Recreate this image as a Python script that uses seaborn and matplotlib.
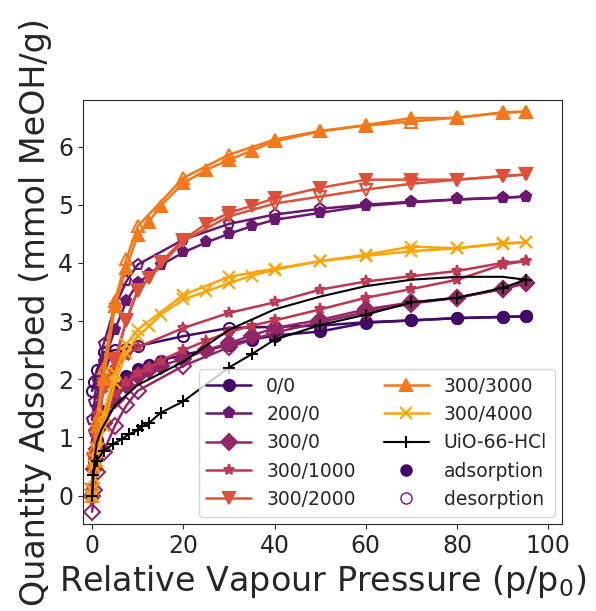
#!/usr/bin/env python3

import numpy as np
import pandas as pd
import seaborn as sns
import matplotlib
matplotlib.use("Agg")
import matplotlib.pyplot as plt
from matplotlib.lines import Line2D

# relative pressure steps (p/p0, %) used by the MOF samples
x_ads = [0, 0.5, 1, 2.5, 5, 7.5, 10, 12.5, 15, 20, 25, 30, 35, 40, 50, 60, 70, 80, 90, 95]
x_des = [95, 90, 80, 70, 60, 50, 40, 30, 20, 10, 7.5, 5, 2.5, 1, 0.5, 0]

labels = ["0/0", "200/0", "300/0", "300/1000", "300/2000", "300/3000", "300/4000"]
markers = ["o", "p", "D", "*", "v", "^", "x"]

ads_00 = [0.0, 0.6, 0.95, 1.45, 1.85, 2.05, 2.17, 2.25, 2.32, 2.42, 2.5, 2.59, 2.68, 2.75, 2.82, 2.97, 3.01, 3.05, 3.07, 3.08]
des_00 = [3.08, 3.07, 3.05, 3.01, 2.98, 2.92, 2.9, 2.88, 2.74, 2.57, 2.52, 2.5, 2.46, 2.15, 1.95, 1.8]

ads_200 = [0.0, 1.1, 1.5, 2.3, 2.85, 3.34, 3.65, 3.8, 3.96, 4.18, 4.35, 4.5, 4.63, 4.74, 4.86, 4.98, 5.04, 5.09, 5.12, 5.14]
des_200 = [5.14, 5.12, 5.09, 5.05, 5.0, 4.93, 4.83, 4.67, 4.4, 3.97, 3.68, 3.25, 2.6, 2.0, 1.6, 1.3]

ads_300 = [0.0, 0.45, 0.8, 1.25, 1.65, 1.9, 2.05, 2.15, 2.23, 2.35, 2.5, 2.62, 2.75, 2.88, 3.02, 3.2, 3.32, 3.4, 3.55, 3.65]
des_300 = [3.65, 3.55, 3.4, 3.3, 3.15, 2.98, 2.8, 2.55, 2.23, 1.8, 1.55, 1.2, 0.75, 0.4, 0.1, -0.28]

ads_1000 = [0.0, 0.5, 0.9, 1.35, 1.75, 1.95, 2.1, 2.2, 2.32, 2.5, 2.66, 2.81, 2.92, 3.01, 3.2, 3.4, 3.55, 3.71, 3.97, 4.03]
des_1000 = [4.03, 4.0, 3.86, 3.77, 3.68, 3.54, 3.32, 3.14, 2.88, 2.55, 2.4, 2.2, 1.85, 1.4, 1.1, 0.7]

ads_2000 = [0.0, 0.4, 0.8, 1.9, 2.34, 3.02, 3.54, 3.74, 4.01, 4.4, 4.67, 4.86, 4.98, 5.11, 5.29, 5.43, 5.43, 5.43, 5.49, 5.52]
des_2000 = [5.52, 5.49, 5.43, 5.36, 5.26, 5.14, 5.02, 4.8, 4.38, 3.52, 3.0, 2.3, 1.85, 1.0, 0.6, 0.1]

ads_3000 = [0.0, 0.6, 1.2, 2.0, 3.25, 3.91, 4.48, 4.71, 4.98, 5.37, 5.6, 5.77, 5.93, 6.09, 6.26, 6.37, 6.49, 6.49, 6.59, 6.6]
des_3000 = [6.6, 6.58, 6.5, 6.43, 6.36, 6.27, 6.12, 5.86, 5.46, 4.63, 4.06, 3.35, 2.2, 1.3, 0.8, 0.1]

ads_4000 = [0.0, 0.3, 0.6, 1.2, 1.94, 2.45, 2.74, 2.91, 3.11, 3.37, 3.51, 3.65, 3.78, 3.88, 4.03, 4.14, 4.28, 4.25, 4.34, 4.35]
des_4000 = [4.35, 4.33, 4.25, 4.2, 4.12, 4.03, 3.9, 3.76, 3.45, 2.85, 2.6, 2.1, 1.4, 0.8, 0.5, 0.1]

# reference UiO-66-HCl, measured on its own pressure steps
x_hcl_ads = [0, 0.2, 1, 2.5, 4.5, 6.5, 8, 10, 11, 12.5, 15, 20, 30, 35, 40, 50, 60, 70, 80, 90, 95]
hcl_ads = [0.0, 0.36, 0.6, 0.76, 0.88, 0.97, 1.05, 1.12, 1.19, 1.25, 1.42, 1.62, 2.2, 2.43, 2.68, 2.93, 3.11, 3.32, 3.4, 3.57, 3.71]
x_hcl_des = [95, 90, 80, 70, 60, 50, 40, 30, 20, 10, 5, 2, 1, 0.5, 0]
hcl_des = [3.71, 3.76, 3.76, 3.71, 3.6, 3.42, 3.2, 2.85, 2.3, 1.9, 1.55, 1.13, 0.9, 0.6, 0.0]

ads_all = [ads_00, ads_200, ads_300, ads_1000, ads_2000, ads_3000, ads_4000]
des_all = [des_00, des_200, des_300, des_1000, des_2000, des_3000, des_4000]


def main():
    sns.set_style("ticks")
    plt.rcParams["font.family"] = ["DejaVu Sans"]

    colors = sns.color_palette("inferno", 9)[1:8]

    fig = plt.figure(figsize=(5.96, 6.11), dpi=100)
    ax = fig.add_axes([83 / 596, 1 - 524 / 611, 479 / 596, 424 / 611])

    line_kws = dict(linewidth=1.8, markersize=8, markeredgewidth=1.5)

    for lab, mk, col, ads, des in zip(labels, markers, colors, ads_all, des_all):
        df_a = pd.DataFrame({"p": x_ads, "q": ads})
        df_d = pd.DataFrame({"p": x_des, "q": des})
        sns.lineplot(data=df_a, x="p", y="q", sort=False, estimator=None,
                     color=col, marker=mk, markeredgecolor=col,
                     markerfacecolor=col, ax=ax, legend=False, **line_kws)
        sns.lineplot(data=df_d, x="p", y="q", sort=False, estimator=None,
                     color=col, marker=mk, markeredgecolor=col,
                     markerfacecolor="none", ax=ax, legend=False, **line_kws)

    hcl_a = pd.DataFrame({"p": x_hcl_ads, "q": hcl_ads})
    hcl_d = pd.DataFrame({"p": x_hcl_des, "q": hcl_des})
    sns.lineplot(data=hcl_a, x="p", y="q", sort=False, estimator=None,
                 color="black", marker="+", markeredgecolor="black",
                 markersize=8, markeredgewidth=1.5, linewidth=1.5,
                 ax=ax, legend=False)
    sns.lineplot(data=hcl_d, x="p", y="q", sort=False, estimator=None,
                 color="black", linewidth=1.5, ax=ax, legend=False)

    ax.set_xlim(-2, 103)
    ax.set_ylim(-0.49, 6.8)
    ax.set_xticks([0, 20, 40, 60, 80, 100])
    ax.set_yticks([0, 1, 2, 3, 4, 5, 6])
    ax.tick_params(labelsize=17)
    ax.set_xlabel("Relative Vapour Pressure (p/p$_0$)", fontsize=24)
    ax.set_ylabel("Quantity Adsorbed (mmol MeOH/g)", fontsize=24)

    handles = [Line2D([], [], color=c, marker=m, markersize=8,
                      markeredgewidth=1.5, linewidth=1.8)
               for c, m in zip(colors, markers)]
    handles.append(Line2D([], [], color="black", marker="+", markersize=8,
                          markeredgewidth=1.5, linewidth=1.5))
    handles.append(Line2D([], [], color=colors[0], marker="o", markersize=8,
                          linestyle="none"))
    handles.append(Line2D([], [], color=colors[1], marker="o", markersize=8,
                          markerfacecolor="none", linestyle="none"))
    names = labels + ["UiO-66-HCl", "adsorption", "desorption"]
    ax.legend(handles, names, ncol=2, loc="lower right", fontsize=13.5,
              handlelength=2.4, columnspacing=1.5, labelspacing=0.5,
              borderaxespad=0.4)

    fig.savefig("out.png", dpi=100)
    plt.close(fig)


if __name__ == "__main__":
    main()
